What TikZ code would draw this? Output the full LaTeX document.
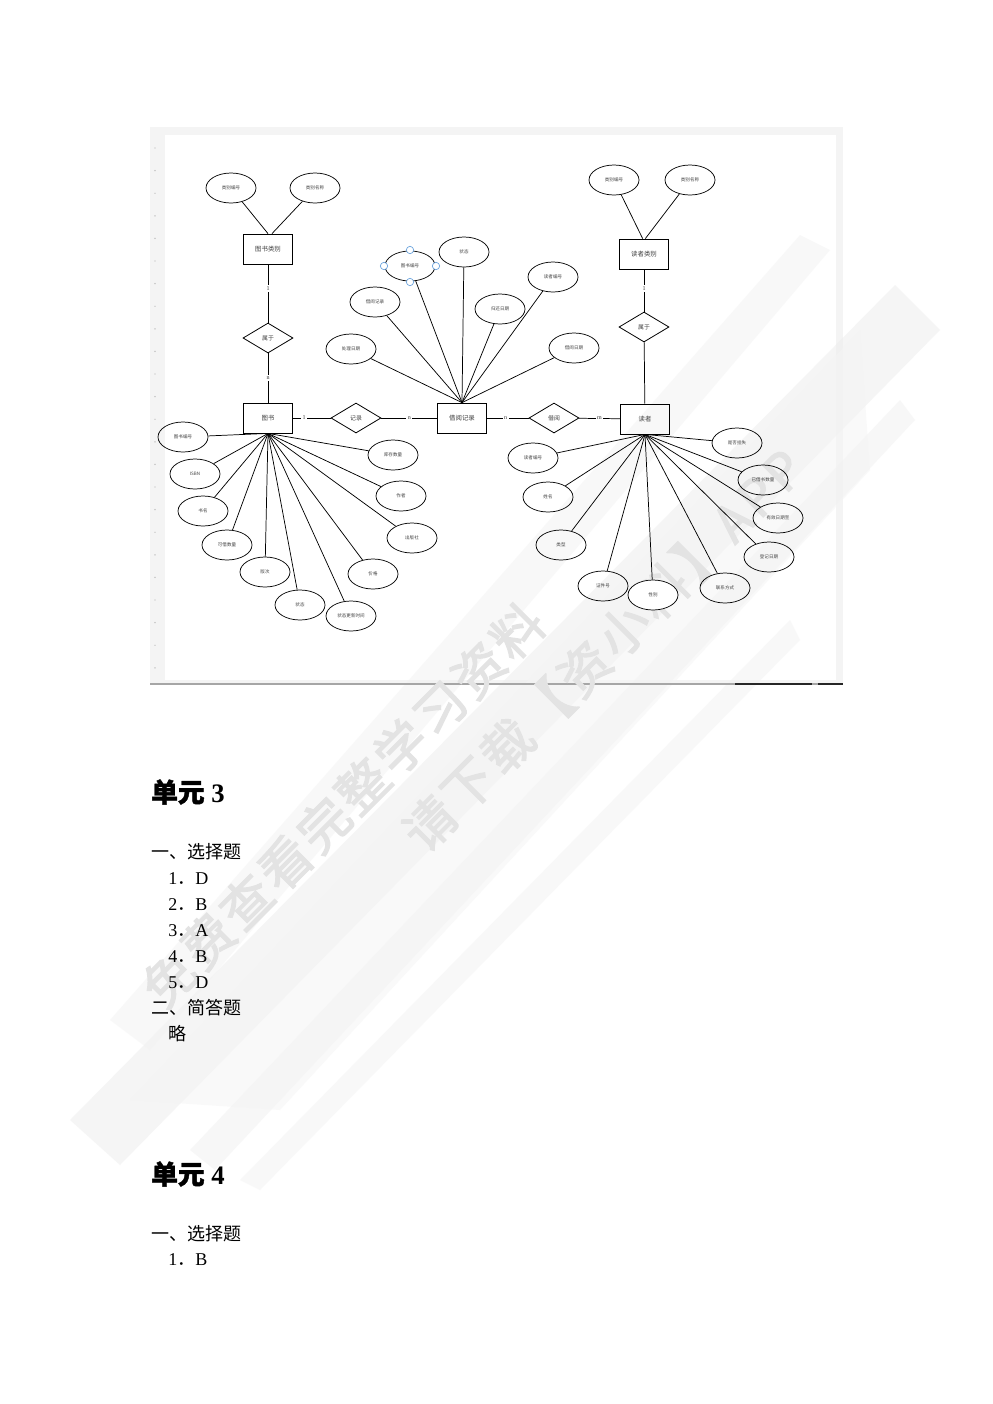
\documentclass[tikz,border=0pt]{standalone}
\usepackage{fontspec}
\setmainfont{Liberation Serif}
\newfontfamily\cjk{Noto Sans CJK SC}
\newfontfamily\cjkb[FakeBold=1.5]{Noto Sans CJK SC}
\newfontfamily\cjkw[FakeBold=2.5,LetterSpace=8]{Noto Sans CJK SC}
\usetikzlibrary{shapes.geometric}
\begin{document}
\begin{tikzpicture}[x=0.75pt,y=-0.75pt,
  attr/.style={ellipse,draw,line width=0.55pt,minimum width=37.5pt,minimum height=22.5pt,inner sep=0pt,font=\cjk\fontsize{3.4}{4}\selectfont,text=black!75},
  ent/.style={rectangle,draw,line width=0.6pt,minimum width=36.75pt,minimum height=22.5pt,inner sep=0pt,font=\cjk\fontsize{4.8}{5}\selectfont,text=black!75},
  rel/.style={diamond,draw,line width=0.6pt,minimum width=37.5pt,minimum height=22.5pt,aspect=1.67,inner sep=0pt,font=\cjk\fontsize{4.4}{5}\selectfont,text=black!75},
  card/.style={fill=white,inner sep=1.2pt,font=\fontsize{4.5}{5}\selectfont,text=black!80},
  conn/.style={line width=0.55pt},
  handle/.style={circle,draw=cyan!60!blue!60,fill=white,line width=0.5pt,minimum size=5.5pt,inner sep=0pt},
  body/.style={anchor=west,inner sep=0pt,font=\fontsize{13.5}{14}\selectfont},
  wm/.style={text=gray!22,font=\cjkw\fontsize{38}{40}\selectfont,rotate=45}
]
\useasboundingbox (0,0) rectangle (993,1404);
\fill[white] (0,0) rectangle (993,1404);

% ---------- screenshot frame ----------
\fill[gray!9] (150,127) rectangle (843,684);
\fill[white] (165,135) rectangle (836,680);
\foreach \yy in {148,170.6,...,672} \fill[gray!60] (155,\yy) circle (0.7);

% ---------- watermark brush strokes ----------
\begin{scope}[opacity=0.5]
\fill[gray!14] (70,1120) -- (120,1165) -- (940,330) -- (895,285) -- cycle;
\fill[gray!10] (110,1020) -- (150,1050) -- (830,250) -- (800,235) -- cycle;
\fill[gray!12] (190,1150) -- (215,1170) -- (915,420) -- (900,400) -- cycle;
\fill[gray!9] (130,1100) -- (280,1110) -- (870,470) -- (860,330) -- cycle;
\fill[gray!10] (240,1180) -- (260,1190) -- (800,640) -- (790,620) -- cycle;
\end{scope}

\draw[gray!70,line width=1pt] (150,684) -- (843,684);
\draw[black!85,line width=1.5pt] (735,684) -- (812,684);
\draw[black!85,line width=1.5pt] (818,684) -- (843,684);

% ---------- watermark text ----------
\node[wm] (w1) at (343,805) {免费查看完整学习资料};
\node[wm] (w2) at (603,650) {请下载【资小料】APP};

% ---------- entities ----------
\node[ent] (tslb) at (268,249) {图书类别};
\node[ent] (ts)   at (268,418) {图书};
\node[ent] (jyjl) at (462,418) {借阅记录};
\node[ent] (dz)   at (645,419) {读者};
\node[ent] (dzlb) at (644,254) {读者类别};

% ---------- relationships ----------
\node[rel] (sy1) at (268,338) {属于};
\node[rel] (jl)  at (356,418) {记录};
\node[rel] (jy)  at (554,418) {借阅};
\node[rel] (sy2) at (644,327) {属于};

\draw[conn] (tslb) -- (sy1) node[card,pos=0.42] {1};
\draw[conn] (sy1) -- (ts) node[card,pos=0.5] {n};
\draw[conn] (ts) -- (jl) node[card,pos=0.3] {1};
\draw[conn] (jl) -- (jyjl) node[card,pos=0.5] {n};
\draw[conn] (jyjl) -- (jy) node[card,pos=0.45] {n};
\draw[conn] (jy) -- (dz) node[card,pos=0.5] {m};
\draw[conn] (dzlb) -- (sy2) node[card,pos=0.45] {1};
\draw[conn] (sy2) -- (dz);

% ---------- category attributes ----------
\node[attr] (a1) at (231,188) {类别编号};
\node[attr] (a2) at (315,188) {类别名称};
\draw[conn] (a1) -- (tslb.north);
\draw[conn] (a2) -- ([xshift=3pt]tslb.north);
\node[attr] (b1) at (614,180) {类别编号};
\node[attr] (b2) at (690,180) {类别名称};
\draw[conn] (b1) -- ([xshift=-1pt]dzlb.north);
\draw[conn] (b2) -- ([xshift=1pt]dzlb.north);

% ---------- borrow record attributes ----------
\node[attr] (c1) at (410,266) {图书编号};
\node[attr] (c2) at (464,252) {状态};
\node[attr] (c3) at (553,277) {读者编号};
\node[attr] (c4) at (500,309) {归还日期};
\node[attr] (c5) at (375,302) {借阅记录};
\node[attr] (c6) at (351,349) {处理日期};
\node[attr] (c7) at (574,348) {借阅日期};
\foreach \c in {c1,c2,c3,c4,c5,c6,c7} \draw[conn] (\c) -- (jyjl.north);
\node[handle] (h1) at (410,250) {};
\node[handle] (h2) at (384,266) {};
\node[handle] (h3) at (436,266) {};
\node[handle] (h4) at (410,282) {};

% ---------- book attributes ----------
\node[attr] (d1)  at (183,437) {图书编号};
\node[attr] (d2)  at (195,474) {ISBN};
\node[attr] (d3)  at (203,511) {书名};
\node[attr] (d4)  at (227,545) {可借数量};
\node[attr] (d5)  at (265,572) {版次};
\node[attr] (d6)  at (300,605) {状态};
\node[attr] (d7)  at (351,616) {状态更新时间};
\node[attr] (d8)  at (373,574) {价格};
\node[attr] (d9)  at (412,538) {出版社};
\node[attr] (d10) at (401,496) {作者};
\node[attr] (d11) at (393,455) {库存数量};
\foreach \c in {d1,d2,d3,d4,d5,d6,d7,d8,d9,d10,d11} \draw[conn] (\c) -- (ts.south);

% ---------- reader attributes ----------
\node[attr] (e1)  at (533,458) {读者编号};
\node[attr] (e2)  at (548,497) {姓名};
\node[attr] (e3)  at (561,545) {类型};
\node[attr] (e4)  at (603,586) {证件号};
\node[attr] (e6)  at (725,588) {联系方式};
\node[attr] (e7)  at (769,557) {登记日期};
\node[attr] (e8)  at (778,518) {有效日期至};
\node[attr] (e9)  at (763,480) {已借书数量};
\node[attr] (e10) at (737,443) {是否挂失};
\foreach \c in {e1,e2,e3,e4,e6,e7,e8,e9,e10} \draw[conn] (\c) -- (dz.south);
\node[attr,fill=white] (e5) at (653,595) {性别};
\draw[conn] (e5) -- (dz.south);

% ---------- page text ----------
\node[anchor=west,inner sep=0pt,font=\fontsize{20}{22}\selectfont\bfseries] (u3) at (151,792) {{\cjkb 单元} 3};
\node[body] (t1) at (151,852) {\cjk 一、选择题};
\node[body] (t2) at (168,879) {1{\cjk ．}D};
\node[body] (t3) at (168,905) {2{\cjk ．}B};
\node[body] (t4) at (168,931) {3{\cjk ．}A};
\node[body] (t5) at (168,957) {4{\cjk ．}B};
\node[body] (t6) at (168,983) {5{\cjk ．}D};
\node[body] (t7) at (151,1008) {\cjk 二、简答题};
\node[body] (t8) at (168,1034) {\cjk 略};
\node[anchor=west,inner sep=0pt,font=\fontsize{20}{22}\selectfont\bfseries] (u4) at (151,1174) {{\cjkb 单元} 4};
\node[body] (t9) at (151,1234) {\cjk 一、选择题};
\node[body] (t10) at (168,1260) {1{\cjk ．}B};
\end{tikzpicture}
\end{document}
